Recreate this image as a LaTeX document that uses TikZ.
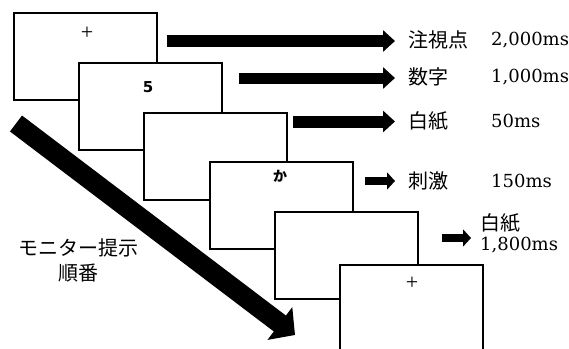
\documentclass[tikz,border=0pt]{standalone}
\usepackage{fontspec}
\usetikzlibrary{arrows.meta}
\setmainfont{DejaVu Serif}
\newfontfamily\cjk{Noto Sans CJK JP}
\newfontfamily\plusfont{Liberation Serif}
\newfontfamily\sansfont{DejaVu Sans}
\begin{document}
\begin{tikzpicture}[x=1pt,y=-1pt,
  screen/.style={draw=black,line width=2pt,fill=white,minimum width=143pt,minimum height=87pt,inner sep=0pt},
  lbl/.style={anchor=west,inner sep=0pt,font=\cjk\fontsize{20}{24}\selectfont},
  tm/.style={anchor=west,inner sep=0pt,font=\fontsize{18}{22}\selectfont},
  fatarrow/.style={line width=#1,-{Triangle[width=21pt,length=12pt]}},
  smallarrow/.style={line width=8pt,-{Triangle[width=17pt,length=8pt]}},
  plus/.style={inner sep=0pt,font=\plusfont\fontsize{22}{22}\selectfont}]
\useasboundingbox (0,0) rectangle (569,348);
% screens
\node[screen] (s1) at (85.5,56.5) {};
\node[screen] (s2) at (150.7,106.3) {};
\node[screen] (s3) at (215.9,156.1) {};
\node[screen] (s4) at (281.1,205.9) {};
\node[screen] (s5) at (346.3,255.7) {};
\node[screen] (s6) at (411.5,308) {};
% screen contents
\node[plus] (p1) at (87,33) {+};
\node[inner sep=0pt,font=\sansfont\bfseries\fontsize{15}{15}\selectfont] (five) at (148,87) {5};
\node[inner sep=0pt,font=\cjk\bfseries\fontsize{14}{14}\selectfont] (ka) at (280,176) {か};
\node[plus] (p6) at (412,283) {+};
% labels
\node[lbl] (l1) at (408,40) {注視点};
\node[tm] (t1) at (491,40) {2,000ms};
\node[lbl] (l2) at (408,77) {数字};
\node[tm] (t2) at (491,77) {1,000ms};
\node[lbl] (l3) at (408,121) {白紙};
\node[tm] (t3) at (491,121) {50ms};
\node[lbl] (l4) at (408,181) {刺激};
\node[tm] (t4) at (491,181) {150ms};
\node[lbl] (l5) at (480,223) {白紙};
\node[tm] (t5) at (480,245) {1,800ms};
\node[inner sep=0pt,align=center,font=\cjk\fontsize{20}{25}\selectfont] (order) at (78,260) {モニター提示\\順番};
% arrow coordinates
\coordinate (a1s) at (167,41);
\coordinate (a1e) at (395,41);
\coordinate (a2s) at (239,78);
\coordinate (a2e) at (395,78);
\coordinate (a3s) at (293,121.5);
\coordinate (a3e) at (395,121.5);
\coordinate (a4s) at (365,181);
\coordinate (a4e) at (395,181);
\coordinate (a5s) at (442,238);
\coordinate (a5e) at (471,238);
\coordinate (bs) at (16,123.5);
\coordinate (be) at (295,335);
% arrows
\draw[fatarrow=12pt] (a1s) -- (a1e);
\draw[fatarrow=11pt] (a2s) -- (a2e);
\draw[fatarrow=12pt] (a3s) -- (a3e);
\draw[smallarrow] (a4s) -- (a4e);
\draw[smallarrow] (a5s) -- (a5e);
\draw[line width=20pt,-{Triangle[width=40pt,length=19pt]}] (bs) -- (be);
\end{tikzpicture}
\end{document}
